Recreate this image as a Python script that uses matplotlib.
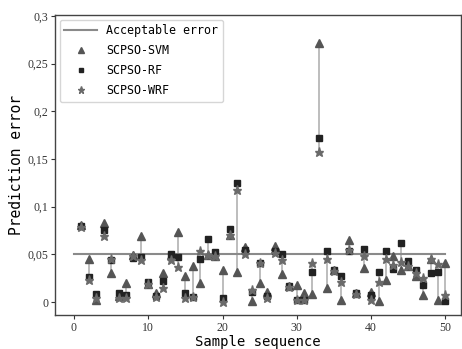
import matplotlib
matplotlib.use("Agg")
import matplotlib.pyplot as plt
import numpy as np

samples = list(range(1, 51))
svm = [0.081, 0.045, 0.002, 0.083, 0.030, 0.006, 0.020, 0.049, 0.069, 0.019,
       0.009, 0.030, 0.049, 0.073, 0.027, 0.038, 0.020, 0.049, 0.048, 0.034,
       0.070, 0.031, 0.058, 0.001, 0.020, 0.010, 0.059, 0.029, 0.017, 0.018,
       0.009, 0.008, 0.272, 0.015, 0.034, 0.002, 0.065, 0.009, 0.036, 0.011,
       0.001, 0.023, 0.048, 0.034, 0.038, 0.027, 0.007, 0.045, 0.002, 0.041]
rf = [0.080, 0.026, 0.008, 0.076, 0.044, 0.009, 0.007, 0.046, 0.047, 0.021,
      0.006, 0.022, 0.050, 0.047, 0.009, 0.005, 0.045, 0.066, 0.052, 0.004,
      0.077, 0.125, 0.055, 0.011, 0.041, 0.006, 0.054, 0.050, 0.017, 0.002,
      0.002, 0.032, 0.172, 0.053, 0.034, 0.027, 0.053, 0.009, 0.056, 0.007,
      0.032, 0.053, 0.035, 0.062, 0.043, 0.034, 0.018, 0.030, 0.031, 0.001]
wrf = [0.079, 0.023, 0.004, 0.069, 0.045, 0.004, 0.004, 0.048, 0.044, 0.019,
       0.005, 0.015, 0.044, 0.037, 0.004, 0.005, 0.054, 0.049, 0.048, 0.000,
       0.070, 0.118, 0.050, 0.013, 0.041, 0.004, 0.051, 0.044, 0.016, 0.002,
       0.002, 0.041, 0.157, 0.045, 0.033, 0.021, 0.055, 0.008, 0.048, 0.002,
       0.021, 0.045, 0.039, 0.042, 0.038, 0.030, 0.025, 0.045, 0.040, 0.007]
acceptable = 0.05
yticks = [0, 0.05, 0.1, 0.15, 0.2, 0.25, 0.3]
ytick_labels = ["0", "0,05", "0,1", "0,15", "0,2", "0,25", "0,3"]
xticks = [0, 10, 20, 30, 40, 50]

label_font = ["DejaVu Sans Mono"]
tick_font = "Liberation Serif"

fig = plt.figure(figsize=(4.62, 3.49), dpi=100)
ax = fig.add_axes([55 / 462, 1 - 315 / 349, 406 / 462, 300 / 349])

lo = np.minimum(np.minimum(svm, rf), wrf)
hi = np.maximum(np.maximum(svm, rf), wrf)
ax.vlines(samples, lo, hi, color="#b8b8b8", linewidth=1.3, zorder=1)

ax.plot([0, 50], [acceptable, acceptable], color="#8a8a8a", linewidth=1.5,
        label="Acceptable error", zorder=2)
ax.plot(samples, svm, linestyle="none", marker="^", color="#555555",
        markersize=5.5, label="SCPSO-SVM", zorder=3)
ax.plot(samples, rf, linestyle="none", marker="s", color="#222222",
        markersize=4.2, label="SCPSO-RF", zorder=4)
ax.plot(samples, wrf, linestyle="none", marker="*", color="#6a6a6a",
        markersize=6.8, label="SCPSO-WRF", zorder=5)

ax.set_xlim(-2.55, 52.1)
ax.set_ylim(-0.0136, 0.301)
ax.set_xticks(xticks)
ax.set_yticks(yticks)
ax.set_yticklabels(ytick_labels)
for lab in ax.get_xticklabels() + ax.get_yticklabels():
    lab.set_fontfamily(tick_font)
    lab.set_fontsize(8.5)
ax.tick_params(direction="out", length=3, width=0.8, colors="#333333", pad=2)
for sp in ax.spines.values():
    sp.set_color("#444444")
    sp.set_linewidth(1.0)

ax.set_xlabel("Sample sequence", family=label_font, fontsize=10, labelpad=1)
ax.set_ylabel("Prediction error", family=label_font, fontsize=10.5, labelpad=2)

leg = ax.legend(loc="upper left", prop={"family": label_font, "size": 8.4},
                frameon=True, fancybox=True, edgecolor="#cccccc",
                borderaxespad=0.4, handlelength=2.8, labelspacing=0.6,
                markerscale=0.75)

fig.savefig("out.png", dpi=100)
